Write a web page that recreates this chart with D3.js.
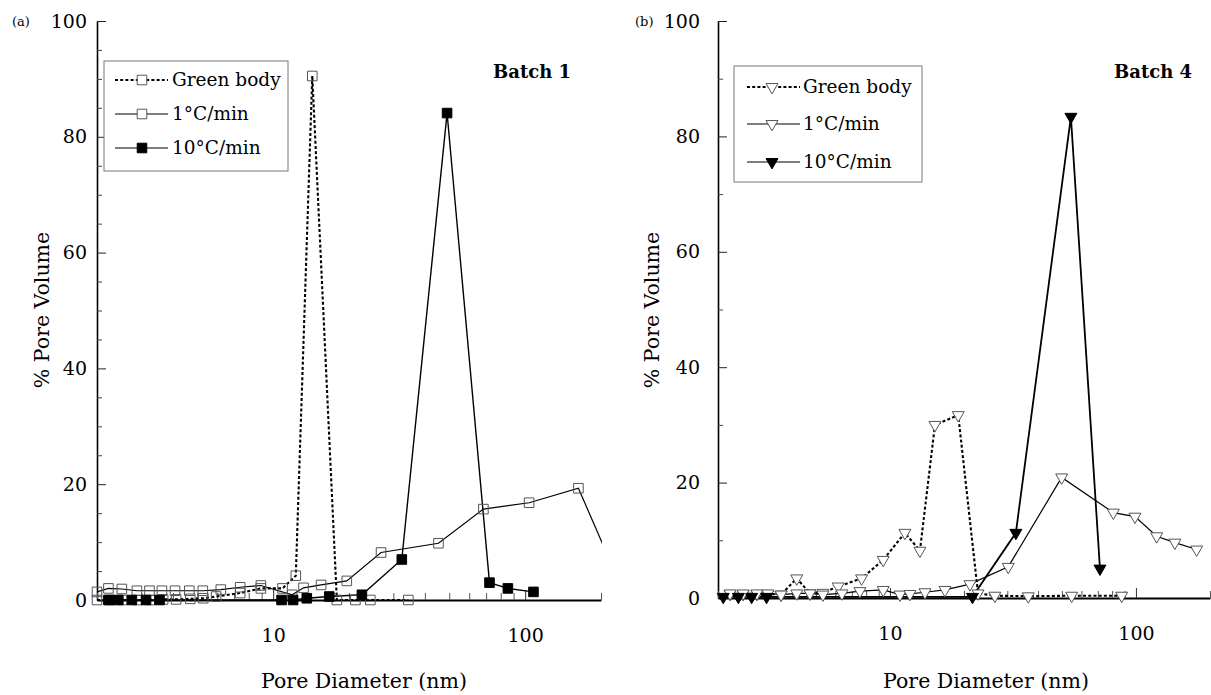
<!DOCTYPE html>
<html><head><meta charset="utf-8">
<script src="https://cdn.jsdelivr.net/npm/d3@7"></script>
<style>
html,body{margin:0;padding:0;background:#fff;}
svg text{font-family:"DejaVu Serif",serif;fill:#000;}
</style></head>
<body><svg id="chart" width="1211" height="695"></svg>
<script>
// ---------------- data ----------------
const seriesNames = ["Green body", "1°C/min", "10°C/min"];
const panelTags = ["(a)", "(b)"];
const panelTitles = ["Batch 1", "Batch 4"];
const xTickValues = [10, 100];
const yTickValues = [0, 20, 40, 60, 80, 100];
const xLabel = "Pore Diameter (nm)";
const yLabel = "% Pore Volume";

// Batch 1
const aGreenDiam = [2.0, 2.25, 2.52, 2.89, 3.25, 3.66, 4.12, 4.69, 5.28, 5.94, 7.4, 8.94, 10.9, 12.3, 14.3, 17.9, 21.2, 24.3, 34.4];
const aGreenVol  = [0, 0, 0, 0, 0, 0.1, 0.1, 0.2, 0.3, 0.6, 1.2, 2.0, 2.0, 4.2, 90.5, 0, 0, 0, 0];
const aSlowDiam  = [2.0, 2.22, 2.51, 2.88, 3.23, 3.62, 4.08, 4.65, 5.26, 6.2, 7.4, 8.94, 11.9, 13.2, 15.5, 19.6, 26.8, 45.3, 68.3, 103.7, 162.7, 215];
const aSlowVol   = [1.4, 2.0, 1.9, 1.6, 1.6, 1.6, 1.6, 1.6, 1.6, 1.8, 2.2, 2.5, 0.9, 2.1, 2.6, 3.3, 8.2, 9.8, 15.7, 16.8, 19.3, 7.2];
const aFastDiam  = [2.22, 2.43, 2.75, 3.13, 3.54, 10.8, 12.0, 13.6, 16.7, 22.5, 32.4, 49.0, 72.2, 85.4, 107.9];
const aFastVol   = [0, 0, 0, 0, 0, 0, 0, 0.3, 0.6, 0.9, 7.0, 84.1, 3.0, 2.0, 1.4];

// Batch 4
const bGreenDiam = [2.24, 2.53, 2.88, 3.19, 3.61, 4.18, 4.73, 5.34, 6.16, 7.67, 9.39, 11.5, 13.24, 15.24, 18.95, 22.8, 26.7, 36.5, 54.8, 87.5];
const bGreenVol  = [0.7, 0.7, 0.7, 0.7, 0.6, 3.4, 0.8, 0.9, 2.0, 3.4, 6.6, 11.3, 8.2, 30.0, 31.7, 0.8, 0.4, 0.3, 0.4, 0.4];
const bSlowDiam  = [2.24, 2.53, 2.88, 3.19, 3.61, 4.18, 4.73, 5.34, 6.38, 7.55, 9.39, 10.98, 12.06, 13.88, 16.74, 21.14, 30.26, 49.9, 80.9, 99.1, 121.4, 144.0, 176.5];
const bSlowVol   = [0.8, 0.8, 0.8, 0.8, 0.6, 0.8, 0.8, 0.6, 0.8, 1.2, 1.4, 0.6, 0.7, 1.0, 1.4, 2.4, 5.4, 20.9, 14.8, 14.1, 10.7, 9.6, 8.4];
const bFastDiam  = [2.10, 2.42, 2.74, 3.15, 21.65, 32.5, 54.4, 71.4];
const bFastVol   = [0.2, 0.2, 0.2, 0.2, 0.2, 11.3, 83.4, 5.1];

// ---------------- layout ----------------
const svg = d3.select("#chart");
const zip = (xs, ys) => xs.map((d, i) => ({d: d, v: ys[i]}));

const panels = [
  { x0: 97, x1: 601, yBase: 600, yTop: 21, tagX: 12, tickPad: 10, minorStep: 5,
    ylabX: 42, titleX: 493, xlabX: 364, marker: "square",
    legend: {x: 104, y: 61, w: 184, h: 110, rows: [80, 114, 148], l0: 115, l1: 168, m: 142, tx: 172},
    series: [zip(aGreenDiam, aGreenVol), zip(aSlowDiam, aSlowVol), zip(aFastDiam, aFastVol)] },
  { x0: 718, x1: 1210, yBase: 598, yTop: 21, tagX: 635, tickPad: 18, minorStep: 10,
    ylabX: 652, titleX: 1114, xlabX: 986, marker: "triangle",
    legend: {x: 734, y: 66, w: 188, h: 116, rows: [87, 124, 162], l0: 747, l1: 800, m: 772, tx: 803},
    series: [zip(bGreenDiam, bGreenVol), zip(bSlowDiam, bSlowVol), zip(bFastDiam, bFastVol)] }
];

const lineStyles = [
  {dash: "3,2.2", width: 2.1},
  {dash: null, width: 1.2},
  {dash: null, width: 1.4}
];

function markerPath(kind) {
  if (kind === "square") return d3.symbol().type(d3.symbolSquare).size(92)();
  return d3.symbol().type(d3.symbolTriangle).size(62)();
}

panels.forEach((p, pi) => {
  const x = d3.scaleLog().domain([2, 200]).range([p.x0, p.x1]);
  const y = d3.scaleLinear().domain([0, 100]).range([p.yBase, p.yTop]);
  const g = svg.append("g");

  // clip
  const clipId = "clip" + pi;
  svg.append("clipPath").attr("id", clipId)
    .append("rect").attr("x", p.x0 - 8).attr("y", 0)
    .attr("width", p.x1 - p.x0 + 9).attr("height", 695);

  // y axis major
  const yAx = g.append("g").attr("transform", `translate(${p.x0},0)`)
    .call(d3.axisLeft(y).tickValues(yTickValues).tickSizeInner(-9).tickSizeOuter(0)
      .tickPadding(p.tickPad).tickFormat(d3.format("d")));
  yAx.select(".domain").attr("stroke", "#000").attr("stroke-width", 1.6);
  yAx.selectAll(".tick line").attr("stroke", "#222").attr("stroke-width", 1);
  yAx.selectAll("text").attr("font-family", "DejaVu Serif").attr("font-size", 19);

  // y axis minor
  const minors = d3.range(p.minorStep, 100, p.minorStep).filter(v => v % 20 !== 0);
  const yMin = g.append("g").attr("transform", `translate(${p.x0},0)`)
    .call(d3.axisLeft(y).tickValues(minors).tickSizeInner(-5).tickSizeOuter(0).tickFormat(""));
  yMin.select(".domain").remove();
  yMin.selectAll(".tick line").attr("stroke", "#444").attr("stroke-width", 1);

  // x axis
  const xAx = g.append("g").attr("transform", `translate(0,${p.yBase})`)
    .call(d3.axisBottom(x).tickValues(xTickValues).tickSizeInner(-10).tickSizeOuter(0)
      .tickPadding(29).tickFormat(d3.format("d")));
  xAx.select(".domain").attr("stroke", "#000").attr("stroke-width", 1.8);
  xAx.selectAll(".tick line").attr("stroke", "#333").attr("stroke-width", 1);
  xAx.selectAll("text").attr("font-family", "DejaVu Serif").attr("font-size", 19);

  const xMinorVals = x.ticks().filter(v => xTickValues.indexOf(v) < 0);
  const xMin = g.append("g").attr("transform", `translate(0,${p.yBase})`)
    .call(d3.axisBottom(x).tickValues(xMinorVals).tickSizeInner(-7).tickSizeOuter(0).tickFormat(""));
  xMin.select(".domain").remove();
  xMin.selectAll(".tick line").attr("stroke", "#555").attr("stroke-width", 1);

  // series
  const plot = g.append("g").attr("clip-path", `url(#${clipId})`);
  const line = d3.line().x(d => x(d.d)).y(d => y(d.v));
  p.series.forEach((s, si) => {
    const st = lineStyles[si];
    plot.append("path").datum(s).attr("d", line)
      .attr("fill", "none").attr("stroke", "#000")
      .attr("stroke-width", (pi === 1 && si === 2) ? 1.8 : st.width)
      .attr("stroke-dasharray", st.dash);
  });
  p.series.forEach((s, si) => {
    const filled = si === 2;
    plot.selectAll(null).data(s).enter().append("path")
      .attr("d", markerPath(p.marker))
      .attr("transform", d => `translate(${x(d.d)},${y(d.v)})` + (p.marker === "triangle" ? " rotate(180)" : ""))
      .attr("fill", filled ? "#000" : (p.marker === "triangle" ? "#fff" : "none"))
      .attr("stroke", filled ? "#000" : "#555")
      .attr("stroke-width", 1);
  });

  // legend
  const L = p.legend;
  g.append("rect").attr("x", L.x).attr("y", L.y).attr("width", L.w).attr("height", L.h)
    .attr("fill", "#fff").attr("stroke", "#777").attr("stroke-width", 1);
  seriesNames.forEach((name, si) => {
    const st = lineStyles[si];
    const ry = L.rows[si];
    g.append("line").attr("x1", L.l0).attr("x2", L.l1).attr("y1", ry).attr("y2", ry)
      .attr("stroke", "#000").attr("stroke-width", si === 0 ? 1.8 : 1)
      .attr("stroke-dasharray", st.dash);
    const filled = si === 2;
    g.append("path").attr("d", markerPath(p.marker))
      .attr("transform", `translate(${L.m},${ry})` + (p.marker === "triangle" ? " rotate(180)" : ""))
      .attr("fill", filled ? "#000" : "#fff")
      .attr("stroke", filled ? "#000" : "#555").attr("stroke-width", 1);
    g.append("text").attr("x", L.tx).attr("y", ry).attr("dy", "0.35em")
      .attr("font-size", 18.5).text(name);
  });

  // titles
  g.append("text").attr("x", p.tagX).attr("y", 26).attr("font-size", 13).text(panelTags[pi]);
  g.append("text").attr("x", p.titleX).attr("y", 78).attr("font-size", 18)
    .attr("font-weight", "bold").text(panelTitles[pi]);
  g.append("text").attr("x", p.xlabX).attr("y", 688).attr("text-anchor", "middle")
    .attr("font-size", 20.5).text(xLabel);
  g.append("text").attr("transform", `translate(${p.ylabX},310) rotate(-90)`)
    .attr("text-anchor", "middle").attr("dy", "0.35em")
    .attr("font-size", 20.5).text(yLabel);
});
</script>
</body></html>
